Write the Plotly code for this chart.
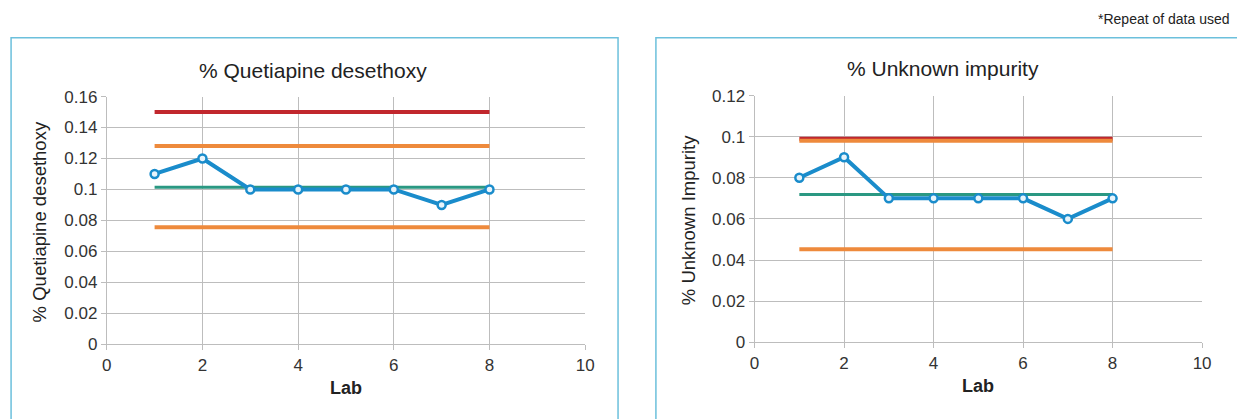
import plotly.graph_objects as go

W, H = 1237, 419

labs = [1, 2, 3, 4, 5, 6, 7, 8]
quetiapine = [0.11, 0.12, 0.10, 0.10, 0.10, 0.10, 0.09, 0.10]
unknown = [0.08, 0.09, 0.07, 0.07, 0.07, 0.07, 0.06, 0.07]

# limit lines: [upper spec (red), upper warn (orange), mean (green), lower warn (orange)]
quet_limits = [0.150, 0.128, 0.1015, 0.0755]
unk_limits = [0.0990, 0.0980, 0.0719, 0.0452]
limit_x = [1, 8]

quet_yticks = [0, 0.02, 0.04, 0.06, 0.08, 0.1, 0.12, 0.14, 0.16]
unk_yticks = [0, 0.02, 0.04, 0.06, 0.08, 0.1, 0.12]
x_ticks = [0, 2, 4, 6, 8, 10]

RED = "#c1272d"
ORANGE = "#ee8a3c"
GREEN = "#2a9882"
BLUE = "#1a8ccb"
GRID = "#bdbdbd"
FONT = "Liberation Sans, Arial, sans-serif"

# calibration of the capture (observed = a * page + b)
AX, BX = 0.992, 3.9
AY, BY = 0.956, 8.3

def px_x(t):
    return ((t - BX) / AX) / W

def px_y(t):
    return 1 - ((t - BY) / AY) / H

fig = go.Figure()

def add_panel(xa, ya, values, limits):
    cols = [RED, ORANGE, GREEN, ORANGE]
    widths = [4, 4, 3, 4]
    for v, c, w in zip(limits, cols, widths):
        fig.add_trace(go.Scatter(x=limit_x, y=[v, v], mode="lines",
                                 line=dict(color=c, width=w),
                                 xaxis=xa, yaxis=ya, showlegend=False, hoverinfo="skip"))
    fig.add_trace(go.Scatter(x=labs, y=values, mode="lines+markers",
                             line=dict(color=BLUE, width=4),
                             marker=dict(symbol="circle", size=8, color="#e8f4fb",
                                         line=dict(color=BLUE, width=2.5)),
                             xaxis=xa, yaxis=ya, showlegend=False))

add_panel("x", "y", quetiapine, quet_limits)
add_panel("x2", "y2", unknown, unk_limits)

axis_common = dict(showgrid=True, gridcolor=GRID, gridwidth=1, showline=True,
                   linecolor=GRID, linewidth=1, zeroline=False,
                   ticks="outside", ticklen=5, tickcolor=GRID,
                   tickfont=dict(family=FONT, size=17, color="#333333"))

ytext = lambda ts: ["0" if t == 0 else ("%g" % t) for t in ts]

fig.update_layout(
    width=W, height=H, margin=dict(l=0, r=0, t=0, b=0),
    paper_bgcolor="white", plot_bgcolor="white",
    xaxis=dict(domain=[px_x(106), px_x(586)], range=[0, 10], tickvals=x_ticks,
               anchor="y", **axis_common),
    yaxis=dict(domain=[px_y(344), px_y(96)], range=[0, 0.16], tickvals=quet_yticks,
               ticktext=ytext(quet_yticks), anchor="x", **axis_common),
    xaxis2=dict(domain=[px_x(756), px_x(1205)], range=[0, 10], tickvals=x_ticks,
                anchor="y2", **axis_common),
    yaxis2=dict(domain=[px_y(342), px_y(95)], range=[0, 0.12], tickvals=unk_yticks,
                ticktext=ytext(unk_yticks), anchor="x2", **axis_common),
)

# panel borders
BORDER = "#6cc0dc"
fig.add_shape(type="rect", xref="paper", yref="paper",
              x0=px_x(10), x1=px_x(619), y0=px_y(440), y1=px_y(37),
              line=dict(color=BORDER, width=1.5))
fig.add_shape(type="rect", xref="paper", yref="paper",
              x0=px_x(657), x1=px_x(1260), y0=px_y(440), y1=px_y(37),
              line=dict(color=BORDER, width=1.5))

def ann(text, x, y, size, angle=0, bold=False, xanchor="center"):
    fig.add_annotation(text=("<b>%s</b>" % text) if bold else text,
                       x=px_x(x), y=px_y(y), xref="paper", yref="paper",
                       showarrow=False, textangle=angle, xanchor=xanchor, yanchor="middle",
                       font=dict(family=FONT, size=size, color="#222222"))

ann("% Quetiapine desethoxy", 313, 70, 21)
ann("% Unknown impurity", 945, 68, 21)
ann("% Quetiapine desethoxy", 38, 221, 18.5, angle=-90)
ann("% Unknown Impurity", 690, 220, 18.5, angle=-90)
ann("Lab", 346, 388, 18, bold=True)
ann("Lab", 980, 386, 18, bold=True)
ann("*Repeat of data used", 1235, 18, 14, xanchor="right")

fig.write_html("out.html", config={"displayModeBar": False},
               post_script="document.body.style.margin='0';document.body.style.overflow='hidden';")
